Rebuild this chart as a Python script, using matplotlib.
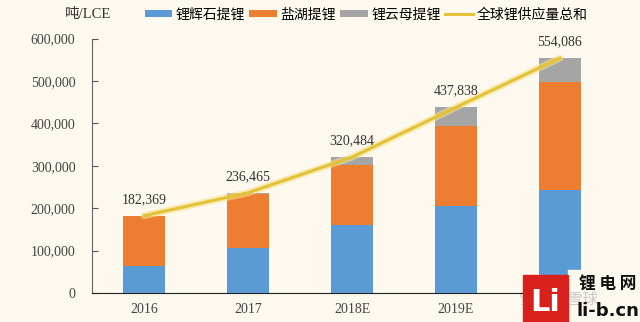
import numpy as np
import matplotlib
matplotlib.use("Agg")
import matplotlib.pyplot as plt
from matplotlib.patches import Rectangle
from matplotlib.ticker import FuncFormatter

years = ["2016", "2017", "2018E", "2019E", "2020E"]
spodumene = [64000, 107000, 159500, 204500, 244000]
brine = [118369, 126465, 143500, 189500, 254000]
lepidolite = [0, 3000, 17484, 43838, 56086]
totals = [182369, 236465, 320484, 437838, 554086]

bg = "#fdf9ee"
serif = ["Liberation Serif", "Noto Sans CJK SC"]
cjk = ["Noto Sans CJK SC", "DejaVu Sans"]

fig = plt.figure(figsize=(6.4, 3.22), dpi=100, facecolor=bg)
ax = fig.add_axes([0.144, 0.09, 0.812, 0.79], facecolor=bg)

x = np.arange(len(years))
w = 0.4
b1 = ax.bar(x, spodumene, w, color="#5b9bd5", label="锂辉石提锂")
b2 = ax.bar(x, brine, w, bottom=spodumene, color="#ed7d31", label="盐湖提锂")
b3 = ax.bar(x, lepidolite, w, bottom=np.add(spodumene, brine),
            color="#a5a5a5", label="锂云母提锂")
ax.plot(x, totals, color="#f5e08a", lw=5, alpha=0.6, solid_capstyle="round")
ln, = ax.plot(x, totals, color="#e3c237", lw=2.2, label="全球锂供应量总和")

for xi, t in zip(x, totals):
    ax.annotate(f"{t:,}", (xi, t), xytext=(0, 7), textcoords="offset points",
                ha="center", va="bottom", fontsize=10, family=serif, color="#333333")

ax.set_xlim(-0.5, len(years) - 0.5)
ax.set_ylim(0, 600000)
ax.set_yticks(range(0, 600001, 100000))
ax.yaxis.set_major_formatter(FuncFormatter(lambda v, p: f"{int(v):,}"))
ax.set_xticks(x)
ax.set_xticklabels(years)
for lab in ax.get_xticklabels() + ax.get_yticklabels():
    lab.set_family(serif)
    lab.set_fontsize(10)
    lab.set_color("#444444")
ax.tick_params(axis="y", direction="in", length=4, color="#555555", pad=12)
ax.tick_params(axis="x", length=0, pad=7)
for s in ["top", "right"]:
    ax.spines[s].set_visible(False)
ax.spines["left"].set_color("#666666")
ax.spines["bottom"].set_color("#222222")

fig.text(0.102, 0.955, "吨/LCE", ha="left", va="center", fontsize=10.5,
         family=serif, color="#333333")
fig.legend(handles=[b1, b2, b3, ln], loc="center", bbox_to_anchor=(0.572, 0.955),
           ncol=4, frameon=False, prop={"family": cjk, "size": 10},
           handlelength=2.0, handleheight=0.45, columnspacing=0.3, handletextpad=0.25)

# watermark
fig.patches.append(Rectangle((0.888, 0.0), 0.112, 0.16, transform=fig.transFigure,
                             color=bg, zorder=3))
fig.text(0.872, 0.07, "雪球 @雪球", ha="center", va="center", fontsize=11,
         color="#c8c8c8", family=cjk, zorder=4)
fig.patches.append(Rectangle((0.817, 0.0), 0.071, 0.145, transform=fig.transFigure,
                             color="#d8211c", zorder=6))
fig.text(0.852, 0.06, "Li", ha="center", va="center", fontsize=22, weight="bold",
         color="white", family=["DejaVu Sans"], zorder=7)
fig.text(0.95, 0.115, "锂 电 网", ha="center", va="center", fontsize=12,
         weight="bold", color="#111111", family=cjk, zorder=7)
fig.text(0.95, 0.035, "li-b.cn", ha="center", va="center", fontsize=13,
         weight="bold", color="#111111", family=["DejaVu Sans"], zorder=7)

fig.savefig("out.png", dpi=100, facecolor=bg)
